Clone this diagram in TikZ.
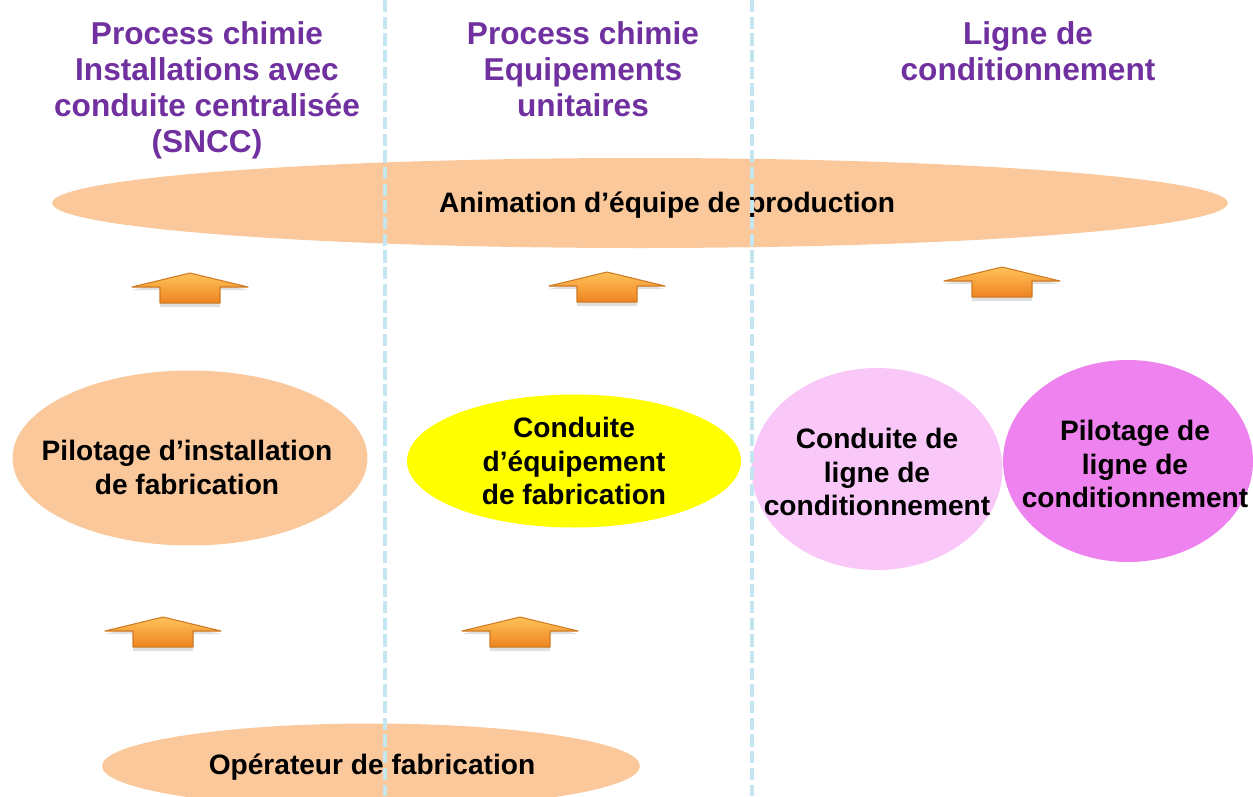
\documentclass[tikz,border=0pt]{standalone}
\usepackage{fontspec}
\setmainfont{Liberation Sans}
\usetikzlibrary{shapes.geometric}
\definecolor{peach}{HTML}{FAC89B}
\definecolor{hdr}{HTML}{7030A0}
\definecolor{pinkl}{HTML}{FAC8F8}
\definecolor{magen}{HTML}{EE82EE}
\definecolor{yel}{HTML}{FFFF00}
\definecolor{dashc}{HTML}{C4E6F0}
\definecolor{arrtop}{HTML}{FFC25A}
\definecolor{arrbot}{HTML}{EE8420}
\definecolor{arredge}{HTML}{CF7A22}
\begin{document}
\begin{tikzpicture}[x=0.02cm,y=-0.02cm,
  blob/.style={ellipse, inner sep=0pt, draw=none},
  lbl/.style={font=\bfseries\fontsize{16}{19.3}\selectfont, align=center, inner sep=0pt, text=black},
  hd/.style={font=\bfseries\fontsize{18}{20.6}\selectfont, align=center, inner sep=0pt, text=hdr, anchor=north},
  sepline/.style={dashc, line width=1.8pt, dash pattern=on 7pt off 2.5pt},
  uparr/.pic={
    \fill[black!40, opacity=0.3] (0,3) -- (58,17) -- (30,17) -- (30,34) -- (-30,34) -- (-30,17) -- (-58,17) -- cycle;
    \draw[arredge, line width=0.6pt, line join=round, top color=arrtop, bottom color=arrbot] (0,0) -- (58,14) -- (30,14) -- (30,30) -- (-30,30) -- (-30,14) -- (-58,14) -- cycle;
  }]
\useasboundingbox (0,0) rectangle (1253,796);
\fill[white] (0,0) rectangle (1253,796);

% headers
\node[hd] (h1) at (207,21) {Process chimie\\Installations avec\\conduite centralisée\\(SNCC)};
\node[hd] (h2) at (583,21) {Process chimie\\Equipements\\unitaires};
\node[hd] (h3) at (1028,21) {Ligne de\\conditionnement};

% ellipses
\node[blob, fill=peach, minimum width=23.52cm, minimum height=1.8cm] (anim) at (640,203) {};
\node[blob, fill=peach, minimum width=7.1cm, minimum height=3.5cm] (pilotE) at (190,458) {};
\node[blob, fill=yel, minimum width=6.68cm, minimum height=2.66cm] (condE) at (574,461) {};
\node[blob, fill=pinkl, minimum width=5.02cm, minimum height=4.04cm] (condLE) at (877,469) {};
\node[blob, fill=magen, minimum width=5.0cm, minimum height=4.04cm] (pilotLE) at (1128,461) {};
\node[blob, fill=peach, minimum width=10.76cm, minimum height=1.7cm] (opE) at (371,766) {};

% texts
\node[lbl] (animT) at (667,205) {Animation d’équipe de production};
\node[lbl] (pilotT) at (187,467) {Pilotage d’installation\\de fabrication};
\node[lbl] (condT) at (574,461) {Conduite\\d’équipement\\de fabrication};
\node[lbl] (condLT) at (877,472) {Conduite de\\ligne de\\conditionnement};
\node[lbl] (pilotLT) at (1135,464) {Pilotage de\\ligne de\\conditionnement};
\node[lbl] (opT) at (372,767) {Opérateur de fabrication};

% arrows
\pic at (190,273) {uparr};
\pic at (607,272) {uparr};
\pic at (1002,267) {uparr};
\pic at (163,617) {uparr};
\pic at (520,617) {uparr};

% separators
\coordinate (s1t) at (385,0); \coordinate (s1b) at (385,796);
\coordinate (s2t) at (752,0); \coordinate (s2b) at (752,796);
\draw[sepline] (s1t) -- (s1b);
\draw[sepline] (s2t) -- (s2b);
\end{tikzpicture}
\end{document}
